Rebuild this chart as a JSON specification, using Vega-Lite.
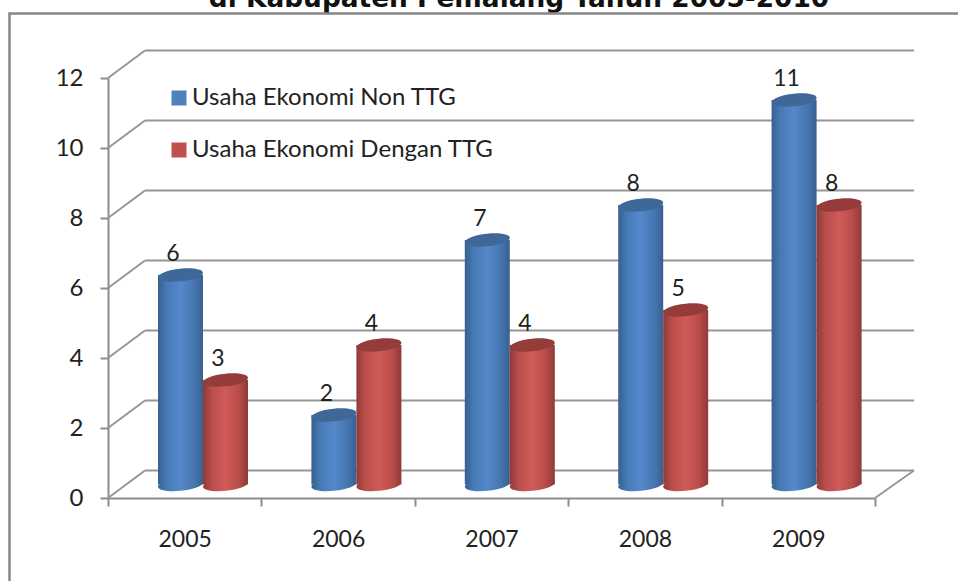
{
  "$schema": "https://vega.github.io/schema/vega-lite/v6.json",
  "width": 767,
  "height": 420,
  "autosize": {"type": "none"},
  "padding": {"left": 108, "top": 78, "right": 83, "bottom": 83},
  "background": "white",
  "config": {"view": {"stroke": null}, "font": "Lato"},
  "datasets": {
    "bars": [
      {"year": "2005", "series": "Usaha Ekonomi Non TTG", "value": 6},
      {"year": "2005", "series": "Usaha Ekonomi Dengan TTG", "value": 3},
      {"year": "2006", "series": "Usaha Ekonomi Non TTG", "value": 2},
      {"year": "2006", "series": "Usaha Ekonomi Dengan TTG", "value": 4},
      {"year": "2007", "series": "Usaha Ekonomi Non TTG", "value": 7},
      {"year": "2007", "series": "Usaha Ekonomi Dengan TTG", "value": 4},
      {"year": "2008", "series": "Usaha Ekonomi Non TTG", "value": 8},
      {"year": "2008", "series": "Usaha Ekonomi Dengan TTG", "value": 5},
      {"year": "2009", "series": "Usaha Ekonomi Non TTG", "value": 11},
      {"year": "2009", "series": "Usaha Ekonomi Dengan TTG", "value": 8}
    ],
    "ticks": [{"t": 0}, {"t": 2}, {"t": 4}, {"t": 6}, {"t": 8}, {"t": 10}, {"t": 12}],
    "floor": [{"t": 0}],
    "heading": [{"label": "di Kabupaten Pemalang Tahun 2005-2010"}]
  },
  "data": {"name": "bars"},
  "encoding": {
    "x": {"field": "year", "type": "nominal", "scale": {"paddingInner": 0, "paddingOuter": 0, "domain": ["2005", "2006", "2007", "2008", "2009"]},
      "axis": {"title": null, "labelAngle": 0, "bandPosition": 0, "tickBand": "extent", "labelFontSize": 23, "labelColor": "#222222", "labelFont": "Lato", "labelPadding": 22, "tickSize": 8, "tickColor": "#8c8c8c", "tickWidth": 2, "domainColor": "#8c8c8c", "domainWidth": 2, "grid": false}},
    "y": {"field": "value", "type": "quantitative", "scale": {"domain": [0, 12], "nice": false},
      "axis": {"title": null, "values": [0, 2, 4, 6, 8, 10, 12], "labelFontSize": 24, "labelColor": "#222222", "labelFont": "Lato", "labelPadding": 17, "tickSize": 8, "tickColor": "#8c8c8c", "tickWidth": 2, "domainColor": "#8c8c8c", "domainWidth": 2, "grid": false}}
  },
  "layer": [
    {
      "data": {"name": "heading"},
      "mark": {"type": "text", "font": "DejaVu Sans", "fontWeight": "bold", "fontSize": 26.4, "color": "#111111", "align": "center", "baseline": "alphabetic"},
      "encoding": {"x": {"value": 411}, "y": {"value": -71}, "text": {"field": "label", "type": "nominal"}}
    },
    {
      "data": {"name": "floor"},
      "mark": {"type": "rect", "fill": null, "stroke": "#868686", "strokeWidth": 2.5},
      "encoding": {"x": {"value": -98.5}, "x2": {"value": 870}, "y": {"value": -64.5}, "y2": {"value": 540}}
    },
    {
      "data": {"name": "ticks"},
      "mark": {"type": "rule", "stroke": "#969696", "strokeWidth": 2, "yOffset": -27.5, "y2Offset": -27.5},
      "encoding": {"x": {"value": 37}, "x2": {"value": 806}, "y": {"field": "t", "type": "quantitative"}, "y2": {"field": "t"}}
    },
    {
      "data": {"name": "ticks"},
      "mark": {"type": "rule", "stroke": "#969696", "strokeWidth": 2, "y2Offset": -27.5},
      "encoding": {"x": {"value": 0}, "x2": {"value": 37}, "y": {"field": "t", "type": "quantitative"}, "y2": {"field": "t"}}
    },
    {
      "data": {"name": "floor"},
      "mark": {"type": "rule", "stroke": "#969696", "strokeWidth": 2, "y2Offset": -27.5},
      "encoding": {"x": {"value": 767}, "x2": {"value": 806}, "y": {"field": "t", "type": "quantitative"}, "y2": {"field": "t"}}
    },
    {
      "mark": {"type": "point", "filled": true, "opacity": 1, "size": 0},
      "encoding": {"color": {"field": "series", "type": "nominal", "scale": {"domain": ["Usaha Ekonomi Non TTG", "Usaha Ekonomi Dengan TTG"], "range": ["#4f81bd", "#c0504d"]},
        "legend": {"title": null, "orient": "none", "legendX": 59, "legendY": 8, "padding": 0, "symbolType": "square", "symbolSize": 225, "symbolStrokeWidth": 0, "labelFontSize": 24, "labelFont": "Lato", "labelColor": "#222222", "labelLimit": 400, "rowPadding": 28, "labelOffset": 1}}}
    },
    {
      "transform": [{"filter": "datum.series === 'Usaha Ekonomi Non TTG'"}],
      "mark": {"type": "point", "filled": true, "opacity": 1, "size": 2025, "shape": "M-1,0.1A1,0.28,-6,1,1,1,-0.1A1,0.28,-6,1,1,-1,0.1Z", "xOffset": -4.2, "yOffset": -13.5,
        "fill": {"gradient": "linear", "x1": 0, "x2": 1, "y1": 0, "y2": 0, "stops": [{"offset": 0, "color": "#38608f"}, {"offset": 0.2, "color": "#467bb6"}, {"offset": 0.5, "color": "#5588cb"}, {"offset": 0.8, "color": "#4676b0"}, {"offset": 1, "color": "#38608f"}]}},
      "encoding": {"y": {"datum": 0}}
    },
    {
      "transform": [{"filter": "datum.series === 'Usaha Ekonomi Non TTG'"}],
      "mark": {"type": "bar", "size": 45, "xOffset": -4.2, "yOffset": -13, "y2Offset": -13.5,
        "fill": {"gradient": "linear", "x1": 0, "x2": 1, "y1": 0, "y2": 0, "stops": [{"offset": 0, "color": "#38608f"}, {"offset": 0.2, "color": "#467bb6"}, {"offset": 0.5, "color": "#5588cb"}, {"offset": 0.8, "color": "#4676b0"}, {"offset": 1, "color": "#38608f"}]}},
      "encoding": {"y2": {"datum": 0}}
    },
    {
      "transform": [{"filter": "datum.series === 'Usaha Ekonomi Non TTG'"}],
      "mark": {"type": "point", "filled": true, "opacity": 1, "size": 2025, "shape": "M-1,0.1A1,0.28,-6,1,1,1,-0.1A1,0.28,-6,1,1,-1,0.1Z", "xOffset": -4.2, "yOffset": -13, "fill": "#3f6797"}
    },
    {
      "transform": [{"filter": "datum.series === 'Usaha Ekonomi Dengan TTG'"}],
      "mark": {"type": "point", "filled": true, "opacity": 1, "size": 2025, "shape": "M-1,0.1A1,0.28,-6,1,1,1,-0.1A1,0.28,-6,1,1,-1,0.1Z", "xOffset": 40.8, "yOffset": -13.5,
        "fill": {"gradient": "linear", "x1": 0, "x2": 1, "y1": 0, "y2": 0, "stops": [{"offset": 0, "color": "#8f3a38"}, {"offset": 0.2, "color": "#bb4e4b"}, {"offset": 0.5, "color": "#d05b58"}, {"offset": 0.8, "color": "#b84c49"}, {"offset": 1, "color": "#8f3a38"}]}},
      "encoding": {"y": {"datum": 0}}
    },
    {
      "transform": [{"filter": "datum.series === 'Usaha Ekonomi Dengan TTG'"}],
      "mark": {"type": "bar", "size": 45, "xOffset": 40.8, "yOffset": -13, "y2Offset": -13.5,
        "fill": {"gradient": "linear", "x1": 0, "x2": 1, "y1": 0, "y2": 0, "stops": [{"offset": 0, "color": "#8f3a38"}, {"offset": 0.2, "color": "#bb4e4b"}, {"offset": 0.5, "color": "#d05b58"}, {"offset": 0.8, "color": "#b84c49"}, {"offset": 1, "color": "#8f3a38"}]}},
      "encoding": {"y2": {"datum": 0}}
    },
    {
      "transform": [{"filter": "datum.series === 'Usaha Ekonomi Dengan TTG'"}],
      "mark": {"type": "point", "filled": true, "opacity": 1, "size": 2025, "shape": "M-1,0.1A1,0.28,-6,1,1,1,-0.1A1,0.28,-6,1,1,-1,0.1Z", "xOffset": 40.8, "yOffset": -13, "fill": "#953c3a"}
    },
    {
      "transform": [{"filter": "datum.series === 'Usaha Ekonomi Non TTG'"}],
      "mark": {"type": "text", "font": "Lato", "fontSize": 23, "color": "#222222", "xOffset": -11.7, "yOffset": -34},
      "encoding": {"text": {"field": "value", "type": "quantitative"}}
    },
    {
      "transform": [{"filter": "datum.series === 'Usaha Ekonomi Dengan TTG'"}],
      "mark": {"type": "text", "font": "Lato", "fontSize": 23, "color": "#222222", "xOffset": 33.3, "yOffset": -34},
      "encoding": {"text": {"field": "value", "type": "quantitative"}}
    }
  ]
}
